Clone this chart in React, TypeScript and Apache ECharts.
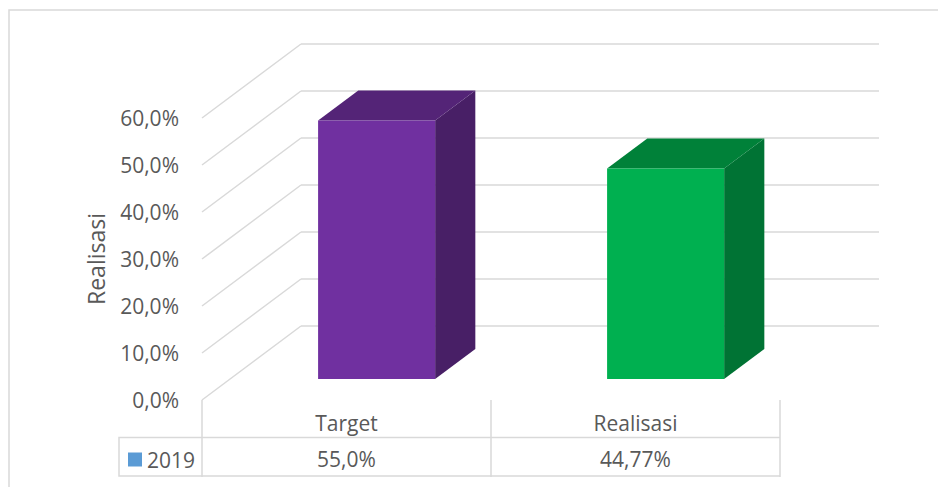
import React, { useEffect, useRef } from "react";
import * as echarts from "echarts";

const categories = ["Target", "Realisasi"];
const seriesName = "2019";
const values = [0.55, 0.4477];
const valueDecimals = [1, 2];
const yTicks = [0, 0.1, 0.2, 0.3, 0.4, 0.5, 0.6];

// styling / projection constants
const FRONT_COLORS = ["#7030A0", "#00B050"];
const TOP_COLORS = ["#542477", "#008139"];
const SIDE_COLORS = ["#481F66", "#007334"];
const GRID_COLOR = "#D9D9D9";
const TEXT_COLOR = "#595959";
const FONT = "'Open Sans', 'Liberation Sans', sans-serif";
const DX = 99;
const DY = 74;
const F1 = 0.284;
const F2 = 0.69;
const BAR_W = 0.405;
const BAR_SHIFT = 2;

const fmtPct = (v: number, d: number) =>
  (v * 100).toFixed(d).replace(".", ",") + "%";

export default function App() {
  const ref = useRef<HTMLDivElement>(null);
  useEffect(() => {
    if (!ref.current) return;
    const chart = echarts.init(ref.current, undefined, { renderer: "svg" });
    const option: any = {
      animation: false,
      backgroundColor: "#FFFFFF",
      textStyle: { fontFamily: FONT },
      legend: {
        show: true,
        data: [{ name: seriesName, icon: "rect" }],
        left: 128,
        top: 449,
        padding: 0,
        itemWidth: 14,
        itemHeight: 14,
        selectedMode: false,
        textStyle: { fontSize: 21, color: TEXT_COLOR, fontFamily: FONT },
      },
      grid: [
        { left: 202, right: 158, top: 118, bottom: 87 },
        { left: 202 + DX, right: 158 - DX, top: 118 - DY, bottom: 87 + DY },
      ],
      xAxis: [
        {
          type: "category",
          gridIndex: 0,
          data: categories,
          axisLine: { show: false },
          axisTick: {
            show: true,
            length: 77,
            lineStyle: { color: GRID_COLOR, width: 1.5 },
          },
          axisLabel: {
            margin: 6,
            formatter: (val: string, idx: number) =>
              `{c|${val}}\n{v|${fmtPct(values[idx], valueDecimals[idx])}}`,
            rich: {
              c: { fontSize: 21, color: TEXT_COLOR, fontFamily: FONT, lineHeight: 34, height: 34 },
              v: { fontSize: 21, color: TEXT_COLOR, fontFamily: FONT, lineHeight: 38, height: 38 },
            },
          },
        },
        {
          type: "category",
          gridIndex: 1,
          data: categories,
          show: false,
        },
      ],
      yAxis: [
        {
          type: "value",
          gridIndex: 0,
          min: 0,
          max: 0.6,
          interval: 0.1,
          axisLine: { show: false },
          axisTick: { show: false },
          splitLine: { show: false },
          axisLabel: {
            margin: 23,
            fontSize: 21,
            color: TEXT_COLOR,
            fontFamily: FONT,
            padding: [8, 0, 0, 0],
            formatter: (v: number) => fmtPct(v, 1),
          },
          name: "Realisasi",
          nameLocation: "middle",
          nameGap: 95,
          nameRotate: 90,
          nameTextStyle: { fontSize: 23, color: TEXT_COLOR, fontFamily: FONT },
        },
        {
          type: "value",
          gridIndex: 1,
          min: 0,
          max: 0.6,
          interval: 0.1,
          axisLine: { show: false },
          axisTick: { show: false },
          axisLabel: { show: false },
          splitLine: { show: true, lineStyle: { color: GRID_COLOR, width: 1.5 } },
        },
      ],
      series: [
        {
          type: "custom",
          name: "walls",
          xAxisIndex: 0,
          yAxisIndex: 0,
          z: 1,
          silent: true,
          data: yTicks.map((t) => [0, t]),
          renderItem: (params: any, api: any) => {
            const p = api.coord([0, api.value(1)]);
            const band = api.size([1, 0])[0];
            const x0 = p[0] - band / 2;
            return {
              type: "line",
              shape: { x1: x0, y1: p[1], x2: x0 + DX, y2: p[1] - DY },
              style: { stroke: GRID_COLOR, lineWidth: 1.5 },
            };
          },
        },
        {
          type: "custom",
          name: seriesName,
          xAxisIndex: 0,
          yAxisIndex: 0,
          z: 3,
          itemStyle: { color: "#5B9BD5" },
          data: values.map((v, i) => [i, v]),
          renderItem: (params: any, api: any) => {
            const i = api.value(0);
            const v = api.value(1);
            const base = api.coord([i, 0]);
            const top = api.coord([i, v]);
            const band = api.size([1, 0])[0];
            const w = band * BAR_W;
            const cx = base[0] + DX * F1 + BAR_SHIFT;
            const y0 = base[1] - DY * F1;
            const y1 = top[1] - DY * F1;
            const xl = cx - w / 2;
            const xr = cx + w / 2;
            const dx = DX * (F2 - F1);
            const dy = DY * (F2 - F1);
            return {
              type: "group",
              children: [
                {
                  type: "polygon",
                  shape: { points: [[xr, y1], [xr + dx, y1 - dy], [xr + dx, y0 - dy], [xr, y0]] },
                  style: { fill: SIDE_COLORS[i] },
                },
                {
                  type: "polygon",
                  shape: { points: [[xl, y1], [xr, y1], [xr + dx, y1 - dy], [xl + dx, y1 - dy]] },
                  style: { fill: TOP_COLORS[i] },
                },
                {
                  type: "rect",
                  shape: { x: xl, y: y1, width: w, height: y0 - y1 },
                  style: { fill: FRONT_COLORS[i] },
                },
              ],
            };
          },
        },
      ],
      graphic: [
        {
          type: "rect",
          shape: { x: 9, y: 10, width: 960, height: 500 },
          style: { fill: "none", stroke: GRID_COLOR, lineWidth: 1.5 },
          silent: true,
        },
        {
          type: "polyline",
          shape: { points: [[780, 437.5], [119, 437.5], [119, 476], [780, 476]] },
          style: { fill: "none", stroke: GRID_COLOR, lineWidth: 1.5 },
          silent: true,
        },
      ],
    };
    chart.setOption(option);
    return () => chart.dispose();
  }, []);
  return (
    <div
      ref={ref}
      style={{ position: "fixed", left: 0, top: 0, width: 938, height: 487 }}
    />
  );
}
